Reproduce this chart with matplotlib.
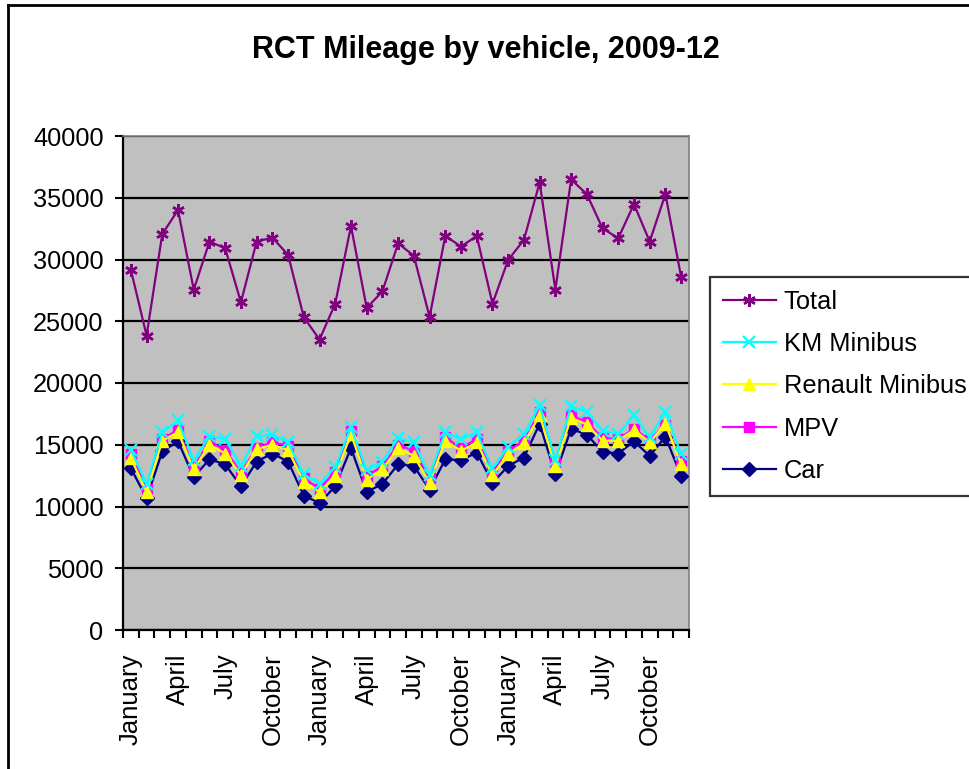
import numpy as np
import matplotlib.pyplot as plt
from matplotlib.lines import Line2D

plt.rcParams['font.family'] = ['Liberation Sans', 'DejaVu Sans']

# Monthly mileage, 36 months
months = ["January", "February", "March", "April", "May", "June",
          "July", "August", "September", "October", "November", "December"] * 3

total = [29167, 23844, 32070, 34005, 27554, 31452, 30914, 26532, 31452, 31774, 30376, 25323,
         23521, 26424, 32715, 26075, 27419, 31317, 30296, 25349, 31909, 31048, 31909, 26425,
         29973, 31586, 36237, 27554, 36478, 35296, 32527, 31720, 34489, 31452, 35296, 28575]
km_minibus = [14590, 11830, 16011, 16967, 13743, 15683, 15464, 13279, 15683, 15820, 15191, 12596,
              11830, 13197, 16421, 12923, 13634, 15546, 15191, 12541, 16011, 15464, 16011, 13087,
              14836, 15874, 18197, 13743, 18115, 17650, 16148, 15874, 17377, 15601, 17650, 14235]
renault_minibus = [13907, 11175, 15328, 16011, 13005, 15000, 14290, 12541, 14645, 15000, 14563, 11994,
                   11175, 12459, 15874, 12186, 13005, 14727, 14098, 11913, 15328, 14508, 15191, 12541,
                   14235, 15109, 17377, 13279, 17186, 16639, 15328, 15328, 16202, 15191, 16694, 13415]
mpv = [14235, 11448, 15464, 16202, 13197, 15273, 14563, 12732, 14727, 15191, 14918, 12268,
       11448, 12814, 16093, 12459, 13279, 15000, 14508, 12268, 15601, 14727, 15464, 12814,
       14508, 15328, 17650, 13634, 17377, 16831, 15546, 15464, 16284, 15382, 16639, 13689]
car = [13087, 10683, 14454, 15273, 12377, 13825, 13415, 11639, 13634, 14290, 13634, 10874,
       10273, 11639, 14727, 11175, 11830, 13415, 13279, 11366, 13825, 13743, 14372, 11913,
       13279, 13962, 16694, 12596, 16284, 15820, 14426, 14290, 15273, 14098, 15656, 12459]

x = np.arange(len(months))

fig = plt.figure(figsize=(9.69, 7.69), dpi=100)
ax = fig.add_axes([123 / 969, 1 - 630 / 769, (689 - 123) / 969, (630 - 136) / 769])
ax.set_facecolor('#C0C0C0')

# draw back to front so triangles sit over squares etc.
ax.plot(x, car, color='#000080', lw=1.6, marker='D', ms=7, mfc='#000080', mec='#000080',
        label='Car', zorder=3)
ax.plot(x, mpv, color='#FF00FF', lw=1.6, marker='s', ms=7.5, mfc='#FF00FF', mec='#FF00FF',
        label='MPV', zorder=4)
ax.plot(x, renault_minibus, color='#FFFF00', lw=1.6, marker='^', ms=9, mfc='#FFFF00',
        mec='#FFFF00', label='Renault Minibus', zorder=5)
ax.plot(x, km_minibus, color='#00FFFF', lw=1.6, marker='x', ms=8, mew=1.6, label='KM Minibus',
        zorder=6)
ax.plot(x, total, color='#800080', lw=1.6, marker=(6, 2, 0), ms=9, mew=1.8, label='Total',
        zorder=7)

ax.set_xlim(-0.5, len(months) - 0.5)
ax.set_ylim(0, 40000)
ax.set_yticks(np.arange(0, 40001, 5000))
ax.yaxis.grid(True, color='black', lw=1.6)
ax.set_axisbelow(True)
ax.tick_params(axis='y', direction='out', length=6, width=1.5, labelsize=18.3, pad=8)

ax.set_xticks(x[::3])
ax.set_xticklabels(months[::3], rotation=90, fontsize=18.5)
ax.set_xticks(np.arange(-0.5, len(months), 1), minor=True)
ax.tick_params(axis='x', which='major', length=0, pad=17)
ax.tick_params(axis='x', which='minor', direction='out', length=6, width=1.5)

for s in ['left', 'bottom']:
    ax.spines[s].set_color('black')
    ax.spines[s].set_linewidth(1.6)
for s in ['top', 'right']:
    ax.spines[s].set_color('#808080')
    ax.spines[s].set_linewidth(1.2)

fig.text(486 / 969, 1 - 50 / 769, 'RCT Mileage by vehicle, 2009-12', ha='center', va='center',
         fontsize=22, fontweight='bold')

handles, labels = ax.get_legend_handles_labels()
leg = fig.legend(handles[::-1], labels[::-1], loc='upper left',
                 bbox_to_anchor=(710 / 969, 1 - 277 / 769), bbox_transform=fig.transFigure,
                 fontsize=18.3, frameon=True, fancybox=False, edgecolor='black',
                 handlelength=2.1, handletextpad=0.3, labelspacing=0.72, borderpad=0.5,
                 borderaxespad=0)
leg.get_frame().set_linewidth(1.6)

# chart area border (left and top edges, the rest is off the picture)
top = 1 - 5 / 769
left = 8 / 969
fig.add_artist(Line2D([left, left], [0, top], color='black', lw=2, transform=fig.transFigure))
fig.add_artist(Line2D([left, 1], [top, top], color='black', lw=2, transform=fig.transFigure))

fig.savefig('out.png', dpi=100)
